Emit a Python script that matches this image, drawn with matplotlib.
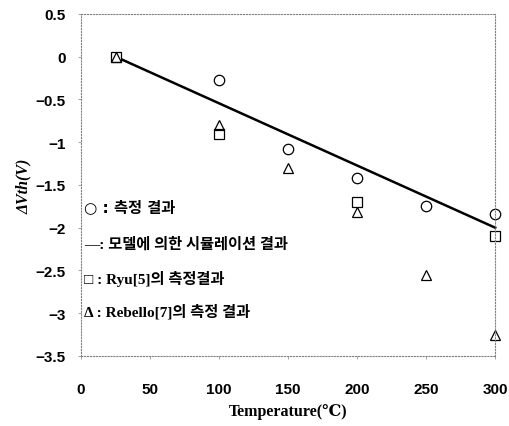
import matplotlib.pyplot as plt

# 측정 데이터
temp = [100, 150, 200, 250, 300]
dvth_meas = [-0.27, -1.08, -1.42, -1.75, -1.84]

ryu_temp = [25, 100, 200, 300]
dvth_ryu = [0.0, -0.9, -1.7, -2.1]

reb_temp = [25, 100, 150, 200, 250, 300]
dvth_reb = [0.0, -0.8, -1.3, -1.82, -2.55, -3.25]

model_temp = [25, 300]
dvth_model = [0.0, -2.0]

xticks = [0, 50, 100, 150, 200, 250, 300]
yticks = [0.5, 0, -0.5, -1, -1.5, -2, -2.5, -3, -3.5]
ytick_labels = ['0.5', '0', '-0.5', '-1', '-1.5', '-2', '-2.5', '-3', '-3.5']

legend_lines = ['○ : 측정 결과', '—: 모델에 의한 시뮬레이션 결과',
                '□ : Ryu[5]의 측정결과', 'Δ : Rebello[7]의 측정 결과']
legend_y = [-1.75, -2.18, -2.59, -2.97]

fig = plt.figure(figsize=(5.1, 4.27), dpi=100)
ax = fig.add_axes([0.159, 0.164, 0.812, 0.801])

ax.plot(model_temp, dvth_model, 'k-', lw=1.8, clip_on=False)
ax.plot(temp, dvth_meas, 'o', ms=7.5, mfc='white', mec='black', mew=0.9, clip_on=False)
ax.plot(ryu_temp, dvth_ryu, 's', ms=7.5, mfc='white', mec='black', mew=0.9, clip_on=False)
ax.plot(reb_temp, dvth_reb, '^', ms=7, mfc='none', mec='black', mew=0.9, clip_on=False)

ax.set_xlim(0, 300)
ax.set_ylim(-3.5, 0.5)
ax.set_xticks(xticks)
ax.set_yticks(yticks)
ax.set_yticklabels([t.replace('-', '\u2212') for t in ytick_labels])
for lab in ax.get_xticklabels() + ax.get_yticklabels():
    lab.set_fontfamily('Liberation Sans')
    lab.set_fontweight('bold')
    lab.set_fontsize(11)
ax.tick_params(length=2, width=0.5, color='gray')
ax.tick_params(axis='x', pad=17)
ax.tick_params(axis='y', pad=9)

for s in ax.spines.values():
    s.set_linestyle(':')
    s.set_linewidth(0.8)
    s.set_color('gray')

for i, (txt, y) in enumerate(zip(legend_lines, legend_y)):
    fam = ['Liberation Serif', 'Noto Sans CJK KR', 'DejaVu Sans']
    if i == 0:
        fam = ['DejaVu Sans', 'Noto Sans CJK KR']
    ax.text(2, y, txt, fontsize=11, fontweight='bold', va='center', family=fam)

ax.set_xlabel('Temperature(℃)', fontsize=11.5, fontweight='bold',
              family=['Liberation Serif', 'DejaVu Serif'], labelpad=5)
ax.set_ylabel('ΔVth(V)', fontsize=11.5, fontweight='bold', style='italic',
              family=['Liberation Serif', 'DejaVu Serif'], labelpad=3)

fig.savefig('out.png', dpi=100)
